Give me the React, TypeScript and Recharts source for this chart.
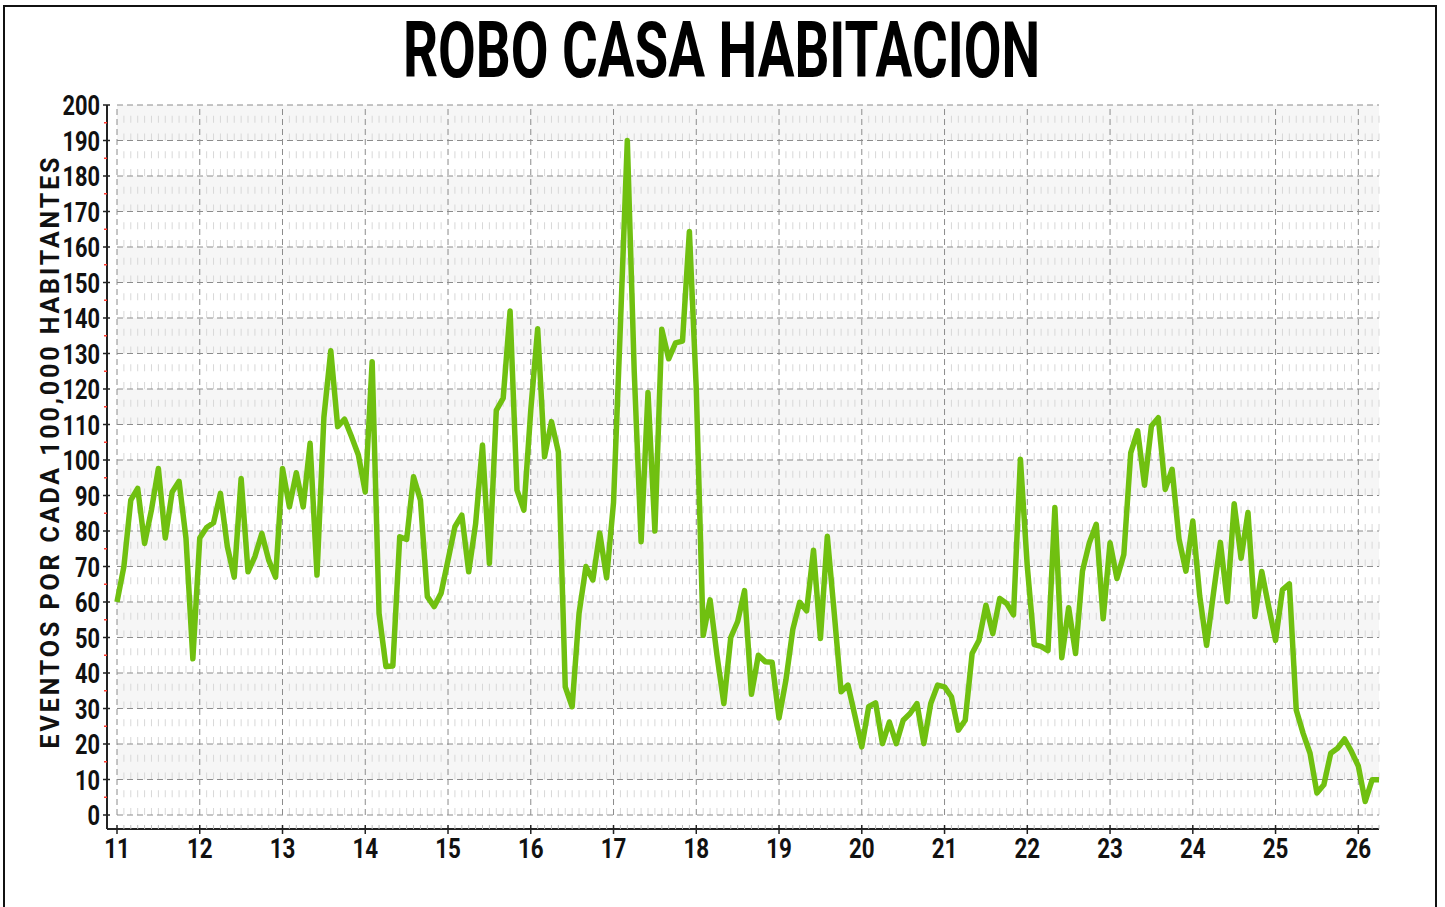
import { LineChart, Line, XAxis, YAxis, ReferenceLine, ReferenceArea } from 'recharts'

// valores mensuales por año (ene 2011 - abr 2026)
const y11 = [60, 70, 88.7, 92, 76.5, 86, 97.6, 78, 91, 94, 78, 44]
const y12 = [78, 81, 82.3, 90.6, 75.6, 67, 94.8, 68.5, 72.8, 79.3, 71.8, 67]
const y13 = [97.6, 86.8, 96.4, 86.8, 104.7, 67.6, 112, 130.8, 109.4, 111.5, 106.6, 101.4]
const y14 = [91, 127.7, 56.8, 41.8, 42, 78.4, 77.6, 95.3, 88.7, 61.5, 58.7, 62.5]
const y15 = [71.8, 81.2, 84.5, 68.5, 82, 104.2, 70.9, 114, 117.4, 142, 91.5, 85.9]
const y16 = [114, 137, 100.9, 110.8, 102.3, 36.1, 30.5, 56.8, 70, 66.2, 79.4, 66.8]
const y17 = [88, 138, 190, 125, 77, 119, 80, 136.8, 128.5, 133, 133.5, 164.4]
const y18 = [120, 50.6, 60.6, 45, 31.4, 50, 54.5, 63.2, 34, 45, 43.2, 43]
const y19 = [27.3, 38, 52.3, 59.9, 57.5, 74.6, 49.7, 78.5, 57, 34.7, 36.6, 28]
const y20 = [19.2, 30.5, 31.6, 20.1, 26.2, 20.1, 26.7, 28.6, 31.4, 20.1, 31.4, 36.6]
const y21 = [36.1, 33.3, 23.9, 26.7, 45.5, 49.2, 59.1, 51.1, 61, 59.6, 56.4, 100.2]
const y22 = [70, 48, 47.5, 46.3, 86.6, 44.3, 58.4, 45.5, 68.7, 76.7, 81.9, 55.3]
const y23 = [76.7, 66.6, 73.4, 102, 108.2, 92.9, 109.6, 111.9, 91.7, 97.4, 77.7, 68.7]
const y24 = [82.8, 61.7, 47.8, 62.5, 76.8, 60.1, 87.7, 72.3, 85.2, 55.9, 68.6, 58.7]
const y25 = [49.2, 63.4, 65.1, 29.6, 23, 17.4, 6.2, 8.5, 17.4, 18.8, 21.4, 17.9]
const y26 = [13.8, 3.8, 9.9, 9.9]

const yearLabels = ['11', '12', '13', '14', '15', '16', '17', '18', '19', '20', '21', '22', '23', '24', '25', '26']
const yTicks = Array.from({ length: 41 }, (_, i) => i * 5)
const bandStarts = [10, 30, 50, 70, 90, 110, 130, 150, 170, 190]

const values = [...y11, ...y12, ...y13, ...y14, ...y15, ...y16, ...y17, ...y18, ...y19, ...y20, ...y21, ...y22, ...y23, ...y24, ...y25, ...y26]
const data = values.map((v, i) => ({ m: i, v }))
const last = data.length - 1
const monthTicks = data.map((d) => d.m)

const GREEN = '#70c010'
const FONT = 'Roboto, "Liberation Sans", sans-serif'

const YTick = (props: any) => {
  const { x, y, payload } = props
  const v = payload.value
  if (v % 10 !== 0) {
    return <line x1={x - 3} x2={x} y1={y} y2={y} stroke="#ff3b30" strokeWidth={1.5} />
  }
  return (
    <g>
      <line x1={x - 4} x2={x + 3} y1={y} y2={y} stroke="#222" strokeWidth={1.5} />
      <text
        transform={`translate(${x - 7},${y + 10}) scale(0.78,1)`}
        textAnchor="end"
        fontFamily={FONT}
        fontWeight={700}
        fontSize={28}
        fill="#111"
      >
        {v}
      </text>
    </g>
  )
}

const XTick = (props: any) => {
  const { x, y, payload } = props
  const m = payload.value
  if (m % 12 !== 0) {
    return <line x1={x} x2={x} y1={y - 4} y2={y} stroke="#bbb" strokeWidth={1} />
  }
  return (
    <g>
      <line x1={x} x2={x} y1={y - 4} y2={y + 5} stroke="#222" strokeWidth={1.5} />
      <text
        transform={`translate(${x},${y + 29}) scale(0.8,1)`}
        textAnchor="middle"
        fontFamily={FONT}
        fontWeight={700}
        fontSize={28}
        fill="#111"
      >
        {yearLabels[m / 12]}
      </text>
    </g>
  )
}

export default function App() {
  return (
    <div style={{ position: 'fixed', left: 0, top: 0, width: 1445, height: 907, overflow: 'hidden', background: '#fff' }}>
      <div
        style={{
          position: 'absolute',
          left: 3,
          top: 5,
          width: 1434,
          height: 940,
          border: '2px solid #111',
          boxSizing: 'border-box',
        }}
      />
      <div style={{ position: 'absolute', left: 0, top: 0 }}>
        <LineChart width={1445} height={907} data={data} margin={{ top: 105, right: 66, bottom: 38, left: 47 }}>
          {bandStarts.map((b) => (
            <ReferenceArea key={'b' + b} x1={0} x2={last} y1={b} y2={b + 10} fill="#f6f6f6" fillOpacity={1} stroke="none" />
          ))}
          {monthTicks
            .filter((m) => m % 12 !== 0)
            .map((m) => (
              <ReferenceLine
                key={'mv' + m}
                segment={[{ x: m, y: 0 }, { x: m, y: 200 }]}
                stroke="#d8d8d8"
                strokeDasharray="7 10.75"
              />
            ))}
          {yTicks
            .filter((v) => v % 10 === 0)
            .map((v) => (
              <ReferenceLine
                key={'h' + v}
                segment={[{ x: 0, y: v }, { x: last, y: v }]}
                stroke="#8c8c8c"
                strokeDasharray="6 4"
              />
            ))}
          {yearLabels.map((_, i) => (
            <ReferenceLine
              key={'yv' + i}
              segment={[{ x: i * 12, y: 0 }, { x: i * 12, y: 200 }]}
              stroke="#8c8c8c"
              strokeDasharray="6 4"
            />
          ))}
          <XAxis
            dataKey="m"
            type="number"
            domain={[0, last]}
            ticks={monthTicks}
            interval={0}
            padding={{ left: 10, right: 0 }}
            height={40}
            tickSize={0}
            tickMargin={0}
            tickLine={false}
            axisLine={{ stroke: '#222', strokeWidth: 2 }}
            tick={<XTick />}
          />
          <YAxis
            type="number"
            domain={[0, 200]}
            ticks={yTicks}
            interval={0}
            padding={{ top: 0, bottom: 14 }}
            width={60}
            tickSize={0}
            tickMargin={0}
            tickLine={false}
            axisLine={{ stroke: '#222', strokeWidth: 2 }}
            tick={<YTick />}
          />
          <Line
            type="linear"
            dataKey="v"
            stroke={GREEN}
            strokeWidth={5.5}
            strokeLinejoin="round"
            dot={false}
            activeDot={false}
            isAnimationActive={false}
          />
        </LineChart>
      </div>
      <svg width={1445} height={907} style={{ position: 'absolute', left: 0, top: 0, pointerEvents: 'none' }}>
        <text
          x={721.5}
          y={77}
          textAnchor="middle"
          fontFamily={FONT}
          fontWeight={700}
          fontSize={77}
          textLength={637}
          lengthAdjust="spacingAndGlyphs"
          fill="#000"
        >
          ROBO CASA HABITACION
        </text>
        <text
          transform="translate(59,453) rotate(-90)"
          textAnchor="middle"
          fontFamily={FONT}
          fontWeight={700}
          fontSize={25}
          textLength={591}
          lengthAdjust="spacing"
          fill="#111"
        >
          EVENTOS POR CADA 100,000 HABITANTES
        </text>
      </svg>
    </div>
  )
}
